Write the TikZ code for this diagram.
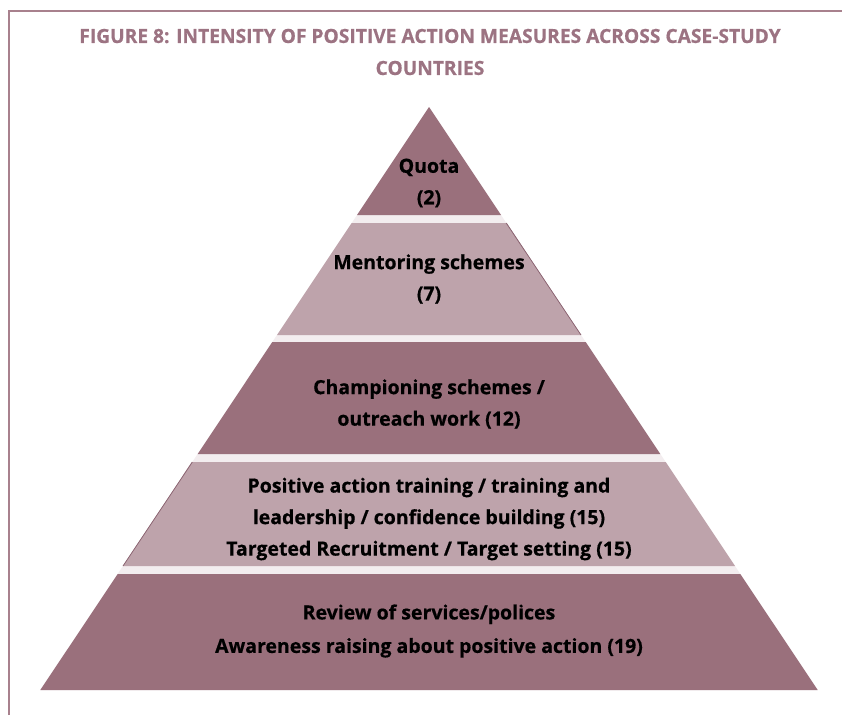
\documentclass[tikz,border=0pt]{standalone}
\usepackage{fontspec}
\setmainfont{Open Sans}
\newfontfamily\heavyfont{Open Sans}[BoldFeatures={FakeBold=0.6}]
\usetikzlibrary{calc}
\definecolor{darktier}{HTML}{9A707C}
\definecolor{lighttier}{HTML}{BEA3AB}
\definecolor{gapcol}{HTML}{F3EDEF}
\definecolor{titlecol}{HTML}{9C7382}
\definecolor{bordercol}{HTML}{A8818D}
\definecolor{edgecol}{HTML}{8A6270}
\tikzset{
  darkfill/.style={fill=darktier, draw=none},
  lightfill/.style={fill=lighttier, draw=none},
  tiertext/.style={font=\heavyfont\bfseries\fontsize{19.5}{31.5}\selectfont, text=black, align=center, inner sep=0pt},
  titletext/.style={font=\heavyfont\bfseries\fontsize{19.5}{32}\selectfont, text=titlecol, align=center, inner sep=0pt},
}
\begin{document}
\begin{tikzpicture}[x=1pt,y=-1pt]
\useasboundingbox (0,0) rectangle (842,715);
% frame
\draw[bordercol, line width=2pt] (9,715) -- (9,11) -- (842,11);
% title
\node[titletext] (title) at (430,52) {\scalebox{0.985}[1]{FIGURE 8: INTENSITY OF POSITIVE ACTION MEASURES ACROSS CASE-STUDY}\\\scalebox{0.985}[1]{COUNTRIES}};
% gap background
\fill[gapcol] (429,107) -- (817.7,690) -- (40.3,690) -- cycle;
% tiers
\fill[darkfill] (429,107) -- (501,215) -- (357,215) -- cycle;
\fill[lightfill] (351.7,223) -- (506.3,223) -- (581,335) -- (277,335) -- cycle;
\draw[edgecol, line width=0.8pt] (506.3,223) -- (581,335);
\fill[darkfill] (272.3,342) -- (585.7,342) -- (660.3,454) -- (197.7,454) -- cycle;
\fill[lightfill] (192.3,462) -- (665.7,462) -- (735,566) -- (123,566) -- cycle;
\draw[edgecol, line width=0.8pt] (192.3,462) -- (123,566);
\fill[darkfill] (117.7,574) -- (740.3,574) -- (817.7,690) -- (40.3,690) -- cycle;
% labels
\node[tiertext] (t1) at (429,183) {Quota\\(2)};
\node[tiertext] (t2) at (429,279) {Mentoring schemes\\(7)};
\node[tiertext] (t3) at (429,404) {Championing schemes /\\outreach work (12)};
\node[tiertext] (t4) at (429,519) {Positive action training / training and\\leadership / confidence building (15)\\Targeted Recruitment / Target setting (15)};
\node[tiertext, font=\heavyfont\bfseries\fontsize{19.5}{33.5}\selectfont] (t5) at (429,631) {Review of services/polices\\Awareness raising about positive action (19)};
\end{tikzpicture}
\end{document}
